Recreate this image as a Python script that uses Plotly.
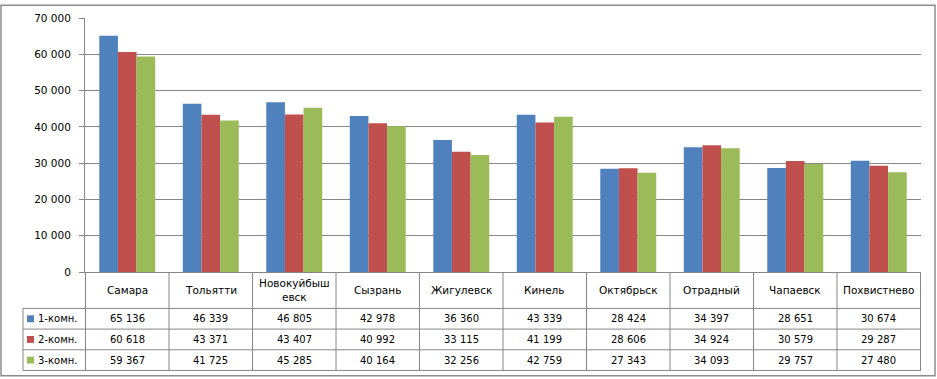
import plotly.graph_objects as go

categories = ["Самара", "Тольятти", "Новокуйбышевск", "Сызрань", "Жигулевск",
              "Кинель", "Октябрьск", "Отрадный", "Чапаевск", "Похвистнево"]
header_labels = ["Самара", "Тольятти", "Новокуйбыш<br>евск", "Сызрань", "Жигулевск",
                 "Кинель", "Октябрьск", "Отрадный", "Чапаевск", "Похвистнево"]
series_names = ["1-комн.", "2-комн.", "3-комн."]
room1 = [65136, 46339, 46805, 42978, 36360, 43339, 28424, 34397, 28651, 30674]
room2 = [60618, 43371, 43407, 40992, 33115, 41199, 28606, 34924, 30579, 29287]
room3 = [59367, 41725, 45285, 40164, 32256, 42759, 27343, 34093, 29757, 27480]
series_values = [room1, room2, room3]
colors = ["#4F81BD", "#C0504D", "#9BBB59"]

W, H = 937, 379
L, R, T, B = 85, 16, 14, 107
PW, PH = W - L - R, H - T - B
GRID = "#868686"
FONT = "DejaVu Sans"


def px(x):
    return (x - L) / PW


def py(y):
    return (H - B - y) / PH


def fmt(v):
    return f"{v:,}".replace(",", " ")


fig = go.Figure()
for name, vals, col in zip(series_names, series_values, colors):
    fig.add_trace(go.Bar(x=categories, y=vals, name=name, marker=dict(color=col, line=dict(width=0)),
                         hoverinfo="skip"))

shapes = []
annotations = []

row_top = H - B          # 272
row_lines = [309, 330, 351, 372]
leg_left = 23

for i in range(len(categories) + 1):
    shapes.append(dict(type="line", xref="x", yref="paper", x0=i - 0.5, x1=i - 0.5,
                       y0=py(row_top), y1=py(row_lines[-1]), line=dict(color=GRID, width=1)))
shapes.append(dict(type="line", xref="paper", yref="paper", x0=px(leg_left), x1=px(leg_left),
                   y0=py(row_lines[0]), y1=py(row_lines[-1]), line=dict(color=GRID, width=1)))
for yl in row_lines:
    shapes.append(dict(type="line", xref="paper", yref="paper", x0=px(leg_left), x1=1,
                       y0=py(yl), y1=py(yl), line=dict(color=GRID, width=1)))

for cat, lab in zip(categories, header_labels):
    annotations.append(dict(x=cat, xref="x", yref="paper", y=py((row_top + row_lines[0]) / 2),
                            text=lab, showarrow=False, font=dict(family=FONT, size=10.5, color="#000"),
                            xanchor="center", yanchor="middle"))

row_bounds = [(row_lines[0], row_lines[1]), (row_lines[1], row_lines[2]), (row_lines[2], row_lines[3])]
for (y0, y1), name, vals, col in zip(row_bounds, series_names, series_values, colors):
    yc = (y0 + y1) / 2
    for cat, v in zip(categories, vals):
        annotations.append(dict(x=cat, xref="x", yref="paper", y=py(yc), text=fmt(v),
                                showarrow=False, font=dict(family=FONT, size=10, color="#000"),
                                xanchor="center", yanchor="middle"))
    shapes.append(dict(type="rect", xref="paper", yref="paper", x0=px(27), x1=px(34),
                       y0=py(yc + 3.5), y1=py(yc - 3.5), fillcolor=col, line=dict(width=0)))
    annotations.append(dict(x=px(36), xref="paper", yref="paper", y=py(yc), text=name,
                            showarrow=False, font=dict(family=FONT, size=10, color="#000"),
                            xanchor="left", yanchor="middle"))

shapes.append(dict(type="rect", xref="paper", yref="paper", x0=px(1), x1=px(935),
                   y0=py(377.5), y1=py(1), line=dict(color="#8C8C8C", width=1.5)))

fig.update_layout(
    width=W, height=H,
    margin=dict(l=L, r=R, t=T, b=B),
    paper_bgcolor="white", plot_bgcolor="white",
    barmode="group", bargap=0.33, bargroupgap=0,
    showlegend=False,
    separators=", ",
    font=dict(family=FONT, size=10, color="#000"),
    shapes=shapes, annotations=annotations,
    xaxis=dict(showticklabels=False, ticks="", showgrid=False, showline=True,
               linecolor=GRID, linewidth=1, zeroline=False),
    yaxis=dict(range=[0, 70000], dtick=10000, tickformat=",d", showgrid=True, gridcolor=GRID,
               gridwidth=1, showline=True, linecolor=GRID, linewidth=1, ticks="outside",
               ticklen=5, tickcolor=GRID, zeroline=False, ticklabelstandoff=6,
               tickfont=dict(family=FONT, size=10.5)),
)

fig.write_html("out.html", config={"displayModeBar": False},
               post_script="document.body.style.margin='0';document.body.style.padding='0';")
